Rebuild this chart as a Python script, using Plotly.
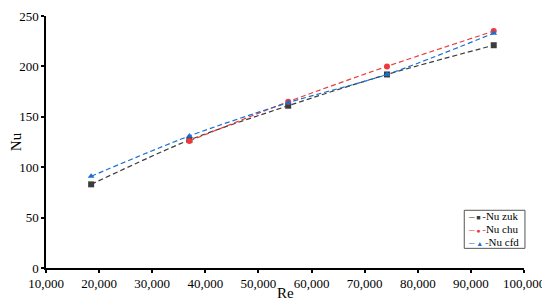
import plotly.graph_objects as go

# ── Data ─────────────────────────────────────────────────────────────
re_vals = [18500, 37000, 55600, 74200, 94300]
nu_zuk = [83, 127, 161, 192, 221]
nu_chu = [None, 126, 165, 200, 235]
nu_cfd = [91, 131, 164, 192, 233]

SERIES = [
    ("Nu zuk", nu_zuk, "#3c3c3c", "square", "■"),
    ("Nu chu", nu_chu, "#ee3a3a", "circle", "●"),
    ("Nu cfd", nu_cfd, "#1b6fd1", "triangle-up", "▲"),
]

FONT = "Liberation Serif, Times New Roman, serif"

fig = go.Figure()
for name, vals, color, symbol, _ in SERIES:
    fig.add_trace(go.Scatter(
        x=re_vals, y=vals, name=name,
        mode="lines+markers", connectgaps=False,
        line=dict(color=color, width=1.2, dash="5px,3px", shape="spline", smoothing=0.8),
        marker=dict(symbol=symbol, size=6, color=color),
        showlegend=False,
    ))

# hand-built compact legend (box + coloured glyph rows)
fig.add_shape(type="rect", xref="paper", yref="paper",
              x0=0.875, x1=1.002, y0=0.078, y1=0.229,
              line=dict(color="#555", width=1), fillcolor="white", layer="above")
for i, (name, _, color, _, glyph) in enumerate(SERIES):
    fig.add_annotation(
        xref="paper", yref="paper", x=0.878, y=0.205 - i * 0.05,
        xanchor="left", yanchor="middle", showarrow=False,
        text=(f"<span style='color:{color}'>–<span style='font-size:7px'> {glyph} </span>-</span>"
              f"{name}"),
        font=dict(family=FONT, size=11, color="black"),
    )

# x title as annotation so it sits tight under the tick labels
fig.add_annotation(
    xref="paper", yref="paper", x=0.5, y=0, yshift=-25,
    xanchor="center", yanchor="middle", showarrow=False,
    text="Re", font=dict(family=FONT, size=15, color="black"),
)

# the page body adds an 8px offset, so the figure is 8px smaller than the window
fig.update_layout(
    width=542, height=295,
    margin=dict(l=38, r=26, t=8, b=35),
    paper_bgcolor="white",
    plot_bgcolor="white",
    font=dict(family=FONT, size=13, color="black"),
    showlegend=False,
)
fig.update_xaxes(
    range=[10000, 100000], dtick=10000, tickformat=",d",
    showline=True, linecolor="black", linewidth=1.5,
    ticks="outside", ticklen=3, tickwidth=1.5, tickcolor="black",
    showgrid=False, zeroline=False, automargin=False,
)
fig.update_yaxes(
    range=[0, 250], dtick=50,
    showline=True, linecolor="black", linewidth=1.5,
    ticks="outside", ticklen=3, tickwidth=1.5, tickcolor="black",
    showgrid=False, zeroline=False, automargin=False,
    title=dict(text="Nu", font=dict(size=15), standoff=3),
)

fig.write_html("out.html")
